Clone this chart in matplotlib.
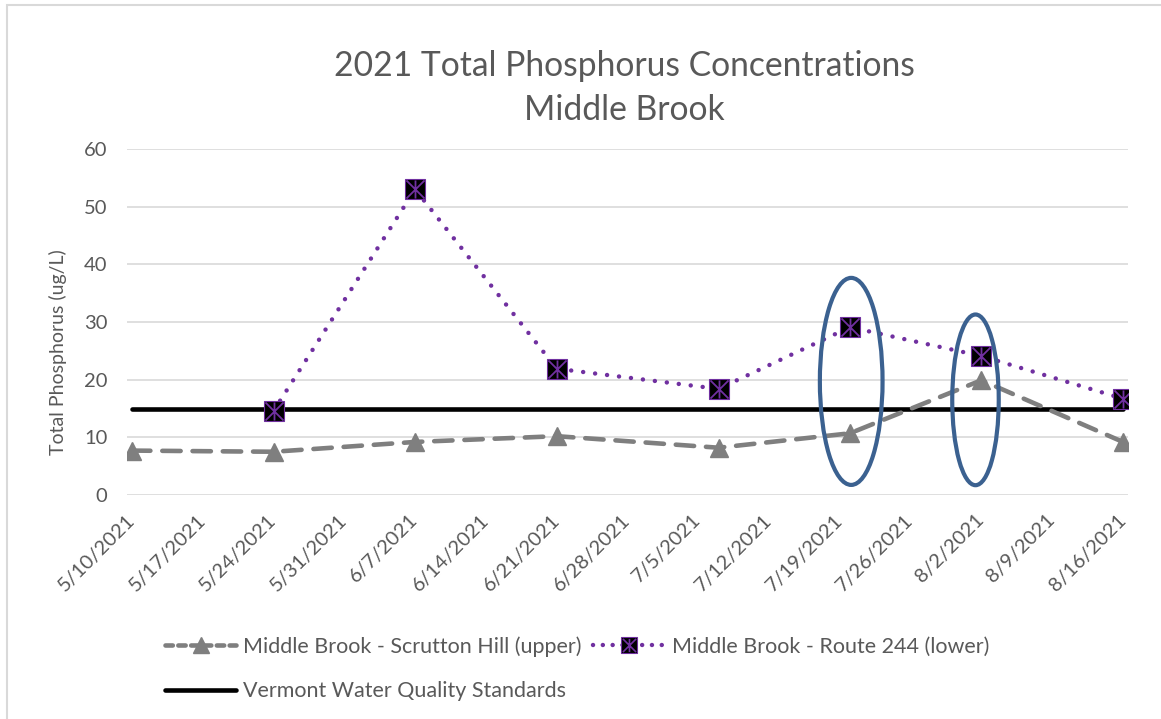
import numpy as np
import pandas as pd
import matplotlib
matplotlib.use("Agg")
import matplotlib.pyplot as plt
import matplotlib.dates as mdates
from matplotlib.path import Path
from matplotlib.patches import Ellipse, Rectangle

plt.rcParams['font.family'] = ['Lato', 'DejaVu Sans']

# data
upper_dates = ["2021-05-10", "2021-05-24", "2021-06-07", "2021-06-21",
               "2021-07-07", "2021-07-20", "2021-08-02", "2021-08-16"]
upper_vals = [7.7, 7.5, 9.2, 10.2, 8.2, 10.7, 19.9, 9.2]

lower_dates = ["2021-05-24", "2021-06-07", "2021-06-21", "2021-07-07",
               "2021-07-20", "2021-08-02", "2021-08-16"]
lower_vals = [14.6, 53.0, 21.9, 18.4, 29.1, 24.1, 16.7]

standard_dates = ["2021-05-10", "2021-08-16"]
standard_vals = [15, 15]

# highlight ellipses: centre date, centre value, width (days), height (ug/L)
ellipse_dates = ["2021-07-20 03:00", "2021-08-01 10:00"]
ellipse_y = [19.7, 16.5]
ellipse_w = [6.2, 4.6]
ellipse_h = [35.9, 29.6]

TEXT = "#595959"
GRID = "#d9d9d9"
GRAY = "#7f7f7f"
PURPLE = "#7030a0"
BLUE = "#3b6190"

# excel "star" marker: X plus vertical bar
star = Path([(-1, -1), (1, 1), (-1, 1), (1, -1), (0, -1), (0, 1)],
            [Path.MOVETO, Path.LINETO, Path.MOVETO, Path.LINETO, Path.MOVETO, Path.LINETO])

ud = pd.to_datetime(upper_dates)
ld = pd.to_datetime(lower_dates)
sd = pd.to_datetime(standard_dates)

fig = plt.figure(figsize=(11.61, 7.19), dpi=100)
ax = fig.add_axes([127/1161, 1 - 495/719, 1001/1161, 346/719])

# outer chart border
fig.patches.append(Rectangle((7/1161, -0.05), 1.1, 1 - 5/719 + 0.05, transform=fig.transFigure,
                             fill=False, edgecolor=GRID, lw=1.5))

ax.plot(ud, upper_vals, color=GRAY, lw=3.3, dashes=(4, 2.6), dash_capstyle='round',
        marker='^', markersize=13.5, markerfacecolor=GRAY, markeredgecolor=GRAY,
        label="Middle Brook - Scrutton Hill (upper)", zorder=3)

ax.plot(ld, lower_vals, color=PURPLE, lw=3.2, dashes=(0.01, 2.7), dash_capstyle='round',
        zorder=3)
ax.plot(ld, lower_vals, ls='none', marker='s', markersize=15, markerfacecolor='black',
        markeredgecolor=PURPLE, markeredgewidth=0.8, zorder=4)
ax.plot(ld, lower_vals, ls='none', marker=star, markersize=13, markeredgecolor=PURPLE,
        markeredgewidth=1.3, zorder=5)

ax.plot(sd, standard_vals, color='black', lw=3.3, solid_capstyle='round', zorder=2)

for d, y, w, h in zip(pd.to_datetime(ellipse_dates), ellipse_y, ellipse_w, ellipse_h):
    ax.add_patch(Ellipse((mdates.date2num(d), y), w, h, fill=False, edgecolor=BLUE,
                         lw=3.0, zorder=6, clip_on=False))

ax.set_ylim(0, 60)
ax.set_yticks(np.arange(0, 61, 10))
ticks = pd.date_range("2021-05-10", "2021-08-16", freq="7D")
ax.set_xlim(mdates.date2num(ticks[0]) - 0.5, mdates.date2num(ticks[-1]) + 0.5)
ax.set_xticks(ticks)
ax.set_xticklabels([f"{t.month}/{t.day}/{t.year}" for t in ticks], rotation=45,
                   ha='right', va='center', rotation_mode='anchor')

ax.grid(axis='y', color=GRID, lw=1.2)
ax.set_axisbelow(True)
for s in ax.spines.values():
    s.set_visible(False)
ax.tick_params(axis='both', length=0, labelsize=14.5, colors=TEXT)
ax.tick_params(axis='y', pad=14)
ax.tick_params(axis='x', pad=16)

ax.set_ylabel("Total Phosphorus (ug/L)", fontsize=14, color=TEXT, va='center')
ax.yaxis.set_label_coords(-0.069, 0.413)
fig.text(624/1161, 1 - 88/719, "2021 Total Phosphorus Concentrations\nMiddle Brook",
         ha='center', va='center', fontsize=24.2, color=TEXT, linespacing=1.5)

# legend handles (row-major order: upper, lower / standard)
h_up = plt.Line2D([], [], color=GRAY, lw=3.3, dashes=(1.6, 1.2), dash_capstyle='round',
                  marker='^', markersize=11, markerfacecolor=GRAY, markeredgecolor=GRAY)
h_low = plt.Line2D([], [], color=PURPLE, lw=3.2, dashes=(0.01, 2.2), dash_capstyle='round',
                   marker='s', markersize=11, markerfacecolor='black', markeredgecolor=PURPLE,
                   markeredgewidth=0.8)
h_low_star = plt.Line2D([], [], ls='none', marker=star, markersize=9.5, markeredgecolor=PURPLE,
                        markeredgewidth=1.2)
h_std = plt.Line2D([], [], color='black', lw=3.3, solid_capstyle='round')
fig.legend([h_up, h_std, (h_low, h_low_star)],
           ["Middle Brook - Scrutton Hill (upper)", "Vermont Water Quality Standards",
            "Middle Brook - Route 244 (lower)"],
           ncol=2, loc='upper left', bbox_to_anchor=(165/1161, 1 - 636/719), frameon=False,
           fontsize=15.5, labelcolor=TEXT, handlelength=3.3, handletextpad=0.33,
           columnspacing=0.55, labelspacing=1.15, borderpad=0, borderaxespad=0)

fig.savefig("out.png", dpi=100)
